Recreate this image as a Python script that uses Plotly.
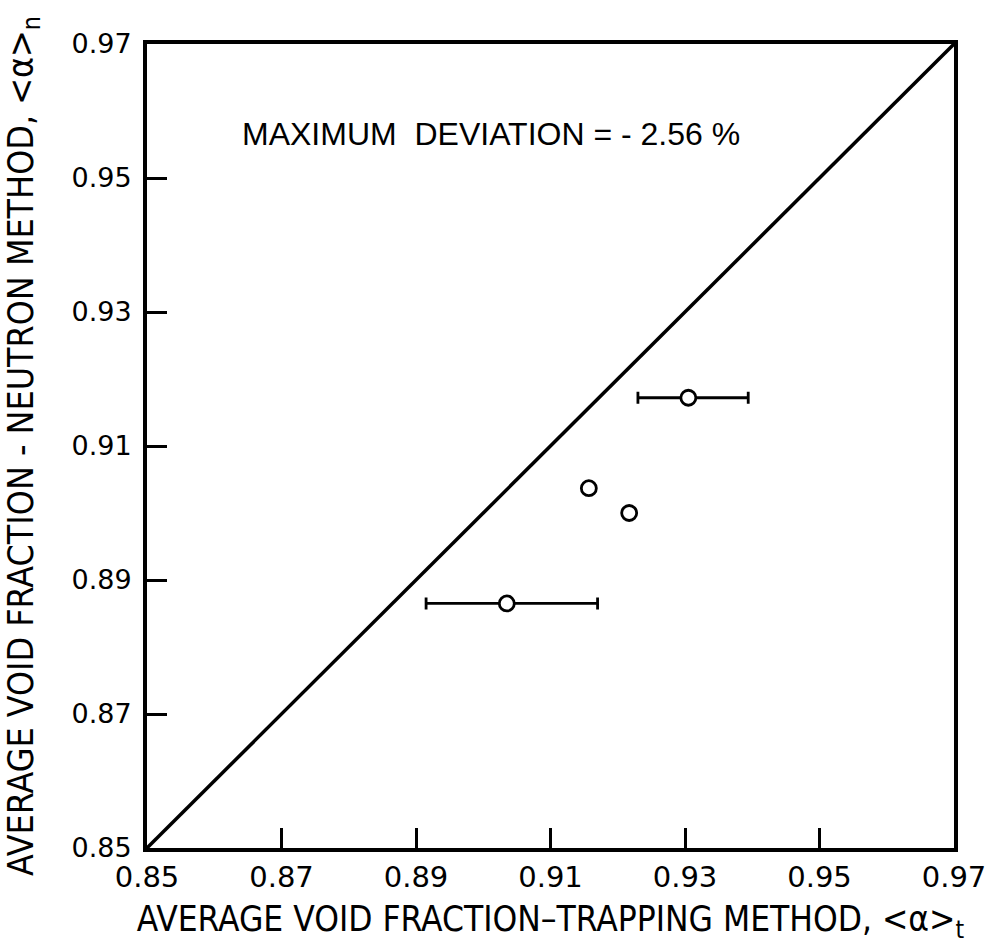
import plotly.graph_objects as go

# Void fraction measured by the trapping method (x) and the neutron method (y)
trap_err = [0.9035, 0.9305]
neut_err = [0.8865, 0.9172]
err_minus = [0.0120, 0.0075]
err_plus = [0.0135, 0.0089]

trap_pts = [0.9157, 0.9217]
neut_pts = [0.9037, 0.9000]

# 45-degree line of perfect agreement
line_x = [0.85, 0.97]
line_y = [0.85, 0.97]

tick_vals = [0.85, 0.87, 0.89, 0.91, 0.93, 0.95, 0.97]
tick_text = ["0.85", "0.87", "0.89", "0.91", "0.93", "0.95", "0.97"]

label_font = "Liberation Sans Narrow, DejaVu Sans Condensed, Liberation Sans, sans-serif"
tick_font = "DejaVu Sans, sans-serif"

fig = go.Figure()

fig.add_trace(go.Scatter(
    x=line_x, y=line_y, mode="lines",
    line=dict(color="black", width=3.5),
    hoverinfo="skip", showlegend=False,
))

marker = dict(symbol="circle", size=15, color="white",
              line=dict(color="black", width=2.8))

fig.add_trace(go.Scatter(
    x=trap_err, y=neut_err, mode="markers",
    marker=marker,
    error_x=dict(type="data", symmetric=False,
                 array=err_plus, arrayminus=err_minus,
                 color="black", thickness=2.8, width=6),
    showlegend=False,
))

fig.add_trace(go.Scatter(
    x=trap_pts, y=neut_pts, mode="markers",
    marker=marker, showlegend=False,
))

fig.add_annotation(
    x=0.8639, y=0.9565, xref="x", yref="y",
    text="MAXIMUM  DEVIATION = - 2.56 %",
    showarrow=False, xanchor="left", yanchor="middle",
    font=dict(family="Liberation Sans, Arial, sans-serif", size=32, color="black"),
)

axis_common = dict(
    range=[0.85, 0.97],
    tickmode="array",
    tickvals=tick_vals,
    ticktext=tick_text,
    ticks="inside",
    ticklen=20,
    tickwidth=2.5,
    tickcolor="black",
    showline=True,
    linecolor="black",
    linewidth=4,
    mirror=True,
    showgrid=False,
    zeroline=False,
)

fig.update_xaxes(
    **axis_common,
    tickfont=dict(family=tick_font, size=29, color="black"),
    ticklabelstandoff=0,
    title=dict(
        text="AVERAGE VOID FRACTION\u2013TRAPPING METHOD, &lt;α&gt;<sub>t</sub>",
        font=dict(family=label_font, size=35, color="black"),
        standoff=21,
    ),
)

fig.update_yaxes(
    **axis_common,
    tickfont=dict(family=tick_font, size=27, color="black"),
    ticklabelstandoff=6,
    title=dict(
        text="AVERAGE VOID FRACTION - NEUTRON METHOD, &lt;α&gt;<sub>n</sub>",
        font=dict(family=label_font, size=35.5, color="black"),
        standoff=31,
    ),
)

fig.update_layout(
    width=1001, height=944,
    margin=dict(l=147, r=47, t=44, b=96, autoexpand=False),
    plot_bgcolor="white",
    paper_bgcolor="white",
)

fig.write_html("out.html")
